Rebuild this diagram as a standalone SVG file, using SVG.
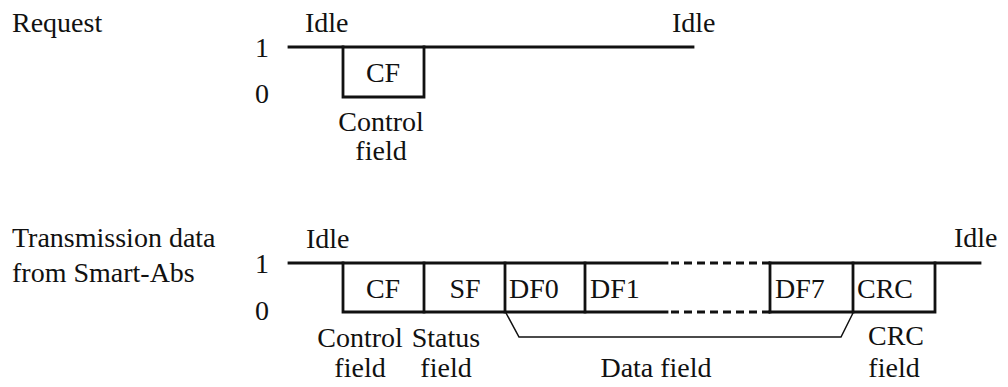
<svg xmlns="http://www.w3.org/2000/svg" width="1008" height="387" viewBox="0 0 1008 387">
<defs>
<style>
text{font-family:"Times New Roman","Liberation Serif",Times,"DejaVu Serif",serif;font-size:28px;fill:#111}
.m{text-anchor:middle}
.sig{fill:none;stroke:#111;stroke-width:2.8;stroke-linecap:square}
.dash{fill:none;stroke:#111;stroke-width:2.8;stroke-dasharray:8 5}
.thin{fill:none;stroke:#111;stroke-width:1.5}
</style>
</defs>
<rect width="1008" height="387" fill="#fff"/>
<g id="request">
<text x="12" y="32">Request</text>
<text x="305" y="32">Idle</text>
<text x="672" y="32">Idle</text>
<text x="255" y="57">1</text>
<text x="255" y="103">0</text>
<text class="m" x="383" y="82">CF</text>
<text class="m" x="381" y="131">Control</text>
<text class="m" x="381" y="160">field</text>
</g>
<g id="transmission">
<text x="12" y="247">Transmission data</text>
<text x="12" y="282">from Smart-Abs</text>
<text x="306" y="248">Idle</text>
<text x="954" y="247">Idle</text>
<text x="255" y="273">1</text>
<text x="255" y="320">0</text>
<text class="m" x="383" y="298">CF</text>
<text class="m" x="465" y="298">SF</text>
<text x="509" y="298">DF0</text>
<text x="590" y="298">DF1</text>
<text x="775" y="298">DF7</text>
<text x="857" y="298">CRC</text>
<text class="m" x="360" y="347">Control</text>
<text class="m" x="360" y="377">field</text>
<text class="m" x="446" y="347">Status</text>
<text class="m" x="446" y="377">field</text>
<text class="m" x="656" y="377">Data field</text>
<text class="m" x="896" y="345">CRC</text>
<text class="m" x="894" y="377">field</text>
</g>
<g id="connectors">
<line class="sig" x1="289" y1="47" x2="693" y2="47"/>
<polyline class="sig" points="343,47 343,97 424,97 424,47"/>
<polyline class="sig" points="289,263 667,263"/>
<line class="dash" x1="671" y1="263" x2="770" y2="263"/>
<polyline class="sig" points="770,263 980,263"/>
<polyline class="sig" points="343,263 343,312 667,312"/>
<line class="dash" x1="671" y1="312" x2="770" y2="312"/>
<polyline class="sig" points="770,312 935,312 935,263"/>
<line class="sig" x1="424" y1="263" x2="424" y2="312"/>
<line class="sig" x1="505" y1="263" x2="505" y2="312"/>
<line class="sig" x1="585" y1="263" x2="585" y2="312"/>
<line class="sig" x1="770" y1="263" x2="770" y2="312"/>
<line class="sig" x1="853" y1="263" x2="853" y2="312"/>
<polyline class="thin" points="506,313 519,337 841,337 853,313"/>
</g>
</svg>
